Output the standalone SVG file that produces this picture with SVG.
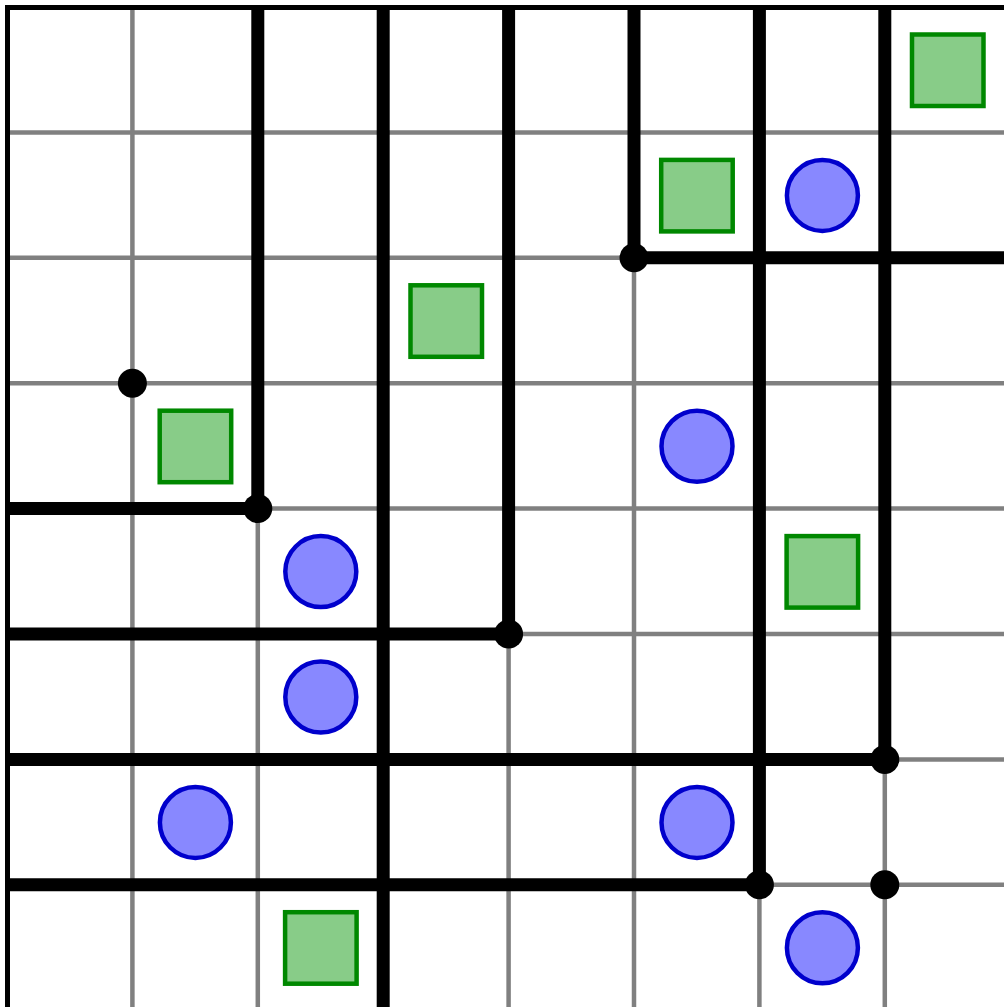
<svg xmlns="http://www.w3.org/2000/svg" width="1004" height="1007" viewBox="0 0 1004 1007">
<style>
.grid line{stroke:#808080;stroke-width:4.5}
.border{stroke:#000;stroke-width:5;fill:none}
.walls line{stroke:#000;stroke-width:13;stroke-linecap:butt}
.dot{fill:#000}
.sq{fill:#88cc88;stroke:#008800;stroke-width:4.5}
.ci{fill:#8888ff;stroke:#0000cc;stroke-width:4.5}
</style>
<rect x="0" y="0" width="1004" height="1007" fill="#fff"/>
<g class="grid">
<line x1="132.4" y1="7.5" x2="132.4" y2="1007"/>
<line x1="257.8" y1="7.5" x2="257.8" y2="1007"/>
<line x1="383.2" y1="7.5" x2="383.2" y2="1007"/>
<line x1="508.6" y1="7.5" x2="508.6" y2="1007"/>
<line x1="634" y1="7.5" x2="634" y2="1007"/>
<line x1="759.4" y1="7.5" x2="759.4" y2="1007"/>
<line x1="884.8" y1="7.5" x2="884.8" y2="1007"/>
<line x1="7.5" y1="132.4" x2="1004" y2="132.4"/>
<line x1="7.5" y1="257.8" x2="1004" y2="257.8"/>
<line x1="7.5" y1="383.2" x2="1004" y2="383.2"/>
<line x1="7.5" y1="508.6" x2="1004" y2="508.6"/>
<line x1="7.5" y1="634" x2="1004" y2="634"/>
<line x1="7.5" y1="759.4" x2="1004" y2="759.4"/>
<line x1="7.5" y1="884.8" x2="1004" y2="884.8"/>
</g>
<path class="border" d="M7.5 1007V7.5H1004"/>
<g id="connectors" class="walls">
<line x1="257.8" y1="7.5" x2="257.8" y2="508.6"/>
<line x1="383.2" y1="7.5" x2="383.2" y2="1007"/>
<line x1="508.6" y1="7.5" x2="508.6" y2="634"/>
<line x1="634" y1="7.5" x2="634" y2="257.8"/>
<line x1="759.4" y1="7.5" x2="759.4" y2="884.8"/>
<line x1="884.8" y1="7.5" x2="884.8" y2="759.4"/>
<line x1="634" y1="257.8" x2="1004" y2="257.8"/>
<line x1="7.5" y1="508.6" x2="257.8" y2="508.6"/>
<line x1="7.5" y1="634" x2="508.6" y2="634"/>
<line x1="7.5" y1="759.4" x2="884.8" y2="759.4"/>
<line x1="7.5" y1="884.8" x2="759.4" y2="884.8"/>
</g>
<g id="junctions">
<circle class="dot" cx="132.4" cy="383.2" r="14.5"/>
<circle class="dot" cx="257.8" cy="508.6" r="14.5"/>
<circle class="dot" cx="508.6" cy="634" r="14.5"/>
<circle class="dot" cx="634" cy="257.8" r="14.5"/>
<circle class="dot" cx="759.4" cy="884.8" r="14.5"/>
<circle class="dot" cx="884.8" cy="759.4" r="14.5"/>
<circle class="dot" cx="884.8" cy="884.8" r="14.5"/>
</g>
<g id="sq1"><rect class="sq" x="912" y="34.5" width="71.5" height="71.5"/></g>
<g id="sq2"><rect class="sq" x="661.2" y="159.9" width="71.5" height="71.5"/></g>
<g id="sq3"><rect class="sq" x="410.5" y="285.3" width="71.5" height="71.5"/></g>
<g id="sq4"><rect class="sq" x="159.7" y="410.7" width="71.5" height="71.5"/></g>
<g id="sq5"><rect class="sq" x="786.6" y="536.1" width="71.5" height="71.5"/></g>
<g id="sq6"><rect class="sq" x="285.1" y="912.2" width="71.5" height="71.5"/></g>
<g id="ci1"><circle class="ci" cx="822.4" cy="195.4" r="35.5"/></g>
<g id="ci2"><circle class="ci" cx="697" cy="446.2" r="35.5"/></g>
<g id="ci3"><circle class="ci" cx="320.8" cy="571.6" r="35.5"/></g>
<g id="ci4"><circle class="ci" cx="320.8" cy="697" r="35.5"/></g>
<g id="ci5"><circle class="ci" cx="195.4" cy="822.4" r="35.5"/></g>
<g id="ci6"><circle class="ci" cx="697" cy="822.4" r="35.5"/></g>
<g id="ci7"><circle class="ci" cx="822.4" cy="947.8" r="35.5"/></g>
</svg>
